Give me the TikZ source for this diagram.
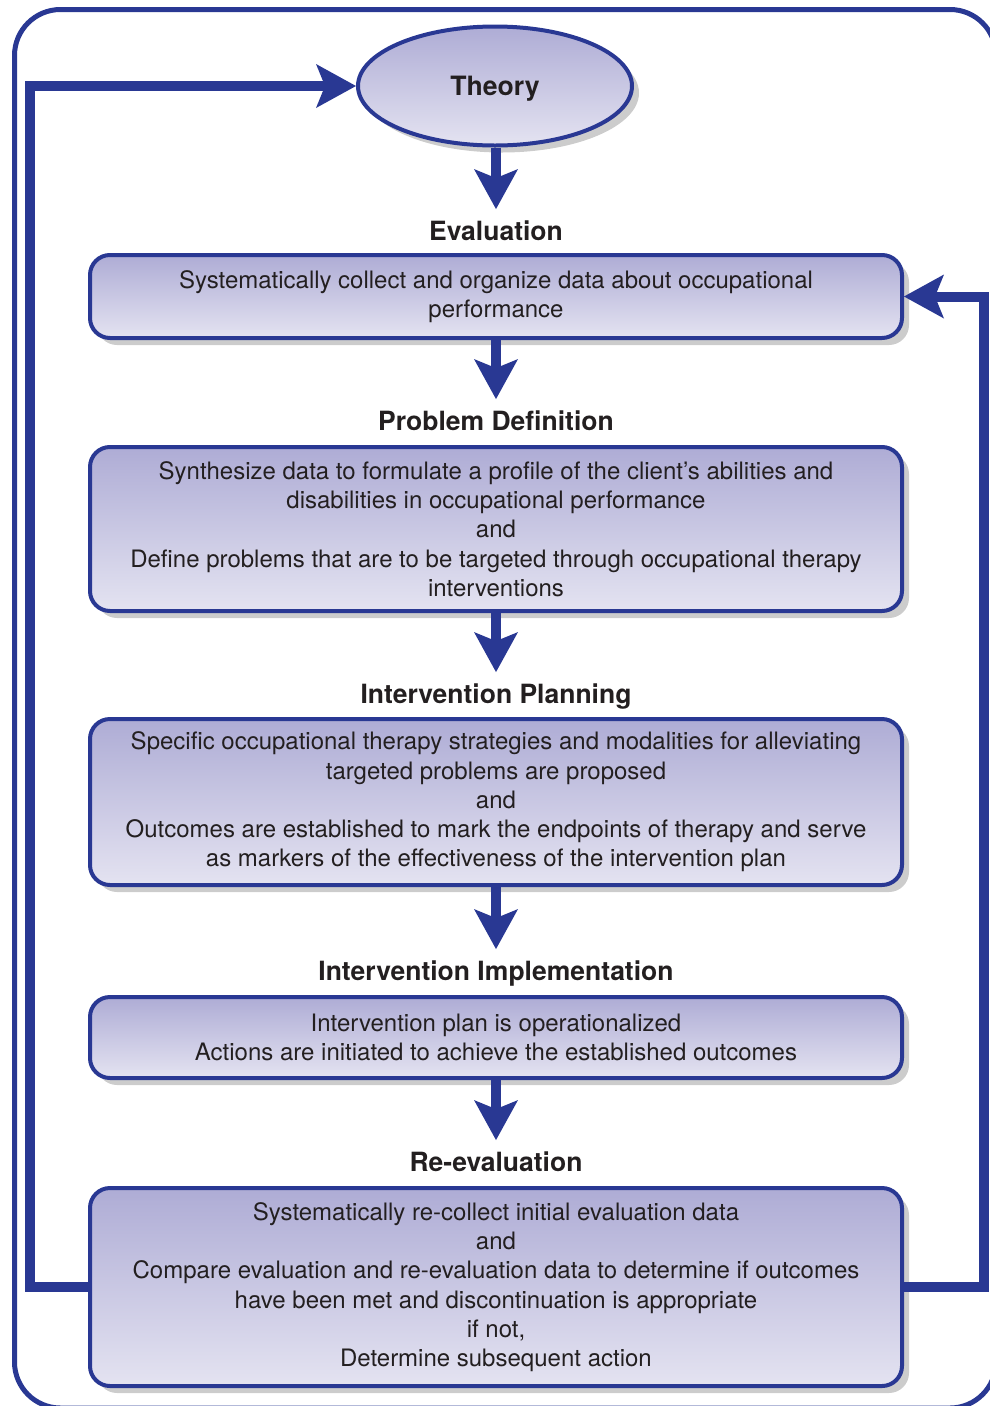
\documentclass[tikz,border=0pt]{standalone}
\usepackage{fontspec}
\setmainfont{TeX Gyre Heros}
\usetikzlibrary{arrows.meta,shapes.geometric,shadows}

\definecolor{otblue}{RGB}{41,56,147}
\definecolor{boxtop}{RGB}{174,172,213}
\definecolor{boxbot}{RGB}{228,227,241}
\definecolor{ink}{RGB}{35,31,32}

\begin{document}
\begin{tikzpicture}[x=1pt,y=1pt,
		boxshadow/.style={drop shadow={shadow xshift=7pt, shadow yshift=-7pt, fill=black!20, opacity=1}},
		stage/.style={draw=otblue, line width=4pt, rounded corners=20pt, top color=boxtop, bottom color=boxbot, boxshadow, minimum width=812pt, inner sep=0pt, align=center, text=ink, font=\fontsize{24}{29.3}\selectfont},
		heading/.style={anchor=base, inner sep=0pt, text=ink, font=\fontsize{26.5}{30}\selectfont\bfseries},
		bigtip/.tip={Stealth[length=40pt, width=44pt, inset=9pt, line width=0pt]},
		flow/.style={otblue, line width=10pt, -bigtip, shorten >=11pt},
		fback/.style={otblue, line width=10pt, -bigtip}]
			\useasboundingbox (0,0) rectangle (990,-1406);
			\clip (0,0) rectangle (990,-1406);
			\draw [otblue, line width=5pt, rounded corners=46pt] (14.5,-9.5) rectangle (996,-1408);
			\node [ellipse, draw=otblue, line width=4pt, top color=boxtop, bottom color=boxbot, boxshadow, minimum width=274pt, minimum height=119pt, inner sep=0pt, text depth=0pt, text=ink, font=\fontsize{26.6}{30}\selectfont\bfseries] (theory) at (495,-86) {Theory};
			\node [heading] (evallbl) at (496,-240) {Evaluation};
			\node [stage, minimum height=83pt] (evalbox) at (496,-296.5) {Systematically collect and organize data about occupational\\performance};
			\node [heading] (problbl) at (496,-430) {Problem Definition};
			\node [stage, minimum height=164pt] (probbox) at (496,-529) {Synthesize data to formulate a profile of the client’s abilities and\\disabilities in occupational performance\\and\\Define problems that are to be targeted through occupational therapy\\interventions};
			\node [heading] (planlbl) at (496,-703) {Intervention Planning};
			\node [stage, minimum height=166pt] (planbox) at (496,-802) {Specific occupational therapy strategies and modalities for alleviating\\targeted problems are proposed\\and\\Outcomes are established to mark the endpoints of therapy and serve\\as markers of the effectiveness of the intervention plan};
			\node [heading] (impllbl) at (496,-980) {Intervention Implementation};
			\node [stage, minimum height=81pt] (implbox) at (496,-1037.5) {Intervention plan is operationalized\\Actions are initiated to achieve the established outcomes};
			\node [heading] (reevlbl) at (496,-1171) {Re-evaluation};
			\node [stage, minimum height=198pt] (reevbox) at (496,-1287) {Systematically re-collect initial evaluation data\\and\\Compare evaluation and re-evaluation data to determine if outcomes\\have been met and discontinuation is appropriate\\if not,\\Determine subsequent action};
			\draw [flow] (evallbl.north |- theory.south) -- (evallbl.north);
			\draw [flow] (evalbox.south) -- (problbl.north);
			\draw [flow] (probbox.south) -- (planlbl.north);
			\draw [flow] (planbox.south) -- (impllbl.north);
			\draw [flow] (implbox.south) -- (reevlbl.north);
			\draw [fback] (reevbox.west) -- ++(-58,0) |- (theory.west);
			\draw [fback] (reevbox.east) -- ++(80,0) |- (evalbox.east);
		\end{tikzpicture}
\end{document}
